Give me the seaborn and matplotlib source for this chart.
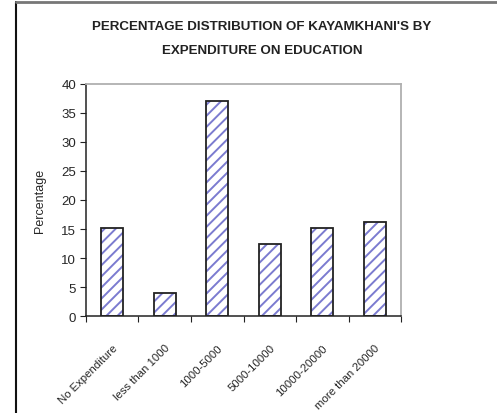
import matplotlib
matplotlib.use("Agg")
import matplotlib.pyplot as plt
from matplotlib.lines import Line2D
import seaborn as sns
import pandas as pd
import numpy as np

categories = ["No Expenditure", "less than 1000", "1000-5000", "5000-10000",
              "10000-20000", "more than 20000"]
percentages = [15.2, 4.0, 37.0, 12.4, 15.2, 16.2]
y_ticks = [0, 5, 10, 15, 20, 25, 30, 35, 40]

sns.set_style("white")
plt.rcParams["font.family"] = ["Liberation Sans", "DejaVu Sans"]
plt.rcParams["hatch.linewidth"] = 1.4

df = pd.DataFrame({"category": categories, "percent": percentages})

fig = plt.figure(figsize=(4.97, 4.14), dpi=100)
ax = fig.add_axes([0.173, 0.234, 0.634, 0.561])

# hatched fill
sns.barplot(data=df, x="category", y="percent", ax=ax, width=0.42,
            color="white", linewidth=0, saturation=1, errorbar=None)
for p in ax.patches:
    p.set_hatch("///")
    p.set_facecolor("white")
    p.set_edgecolor("#7b7bd0")
    p.set_linewidth(0)
# dark outlines on top
sns.barplot(data=df, x="category", y="percent", ax=ax, width=0.42,
            fill=False, edgecolor="#222222", linewidth=1.3, errorbar=None)

ax.set_ylim(0, 40)
ax.set_xlim(-0.5, len(categories) - 0.5)
ax.set_yticks(y_ticks)
ax.set_yticklabels([str(v) for v in y_ticks], fontsize=9.5)
ax.set_xticks(range(len(categories)))
ax.set_xticklabels(categories, rotation=45, ha="right", rotation_mode="anchor",
                   fontsize=8.2)
ax.set_xticks(np.arange(-0.5, len(categories)), minor=True)
ax.tick_params(axis="x", which="major", length=0, pad=19)
ax.tick_params(axis="x", which="minor", length=4, width=0.8, color="#222222",
               direction="out", bottom=True)
ax.tick_params(axis="y", length=4, width=0.8, color="#222222", direction="out",
               left=True, pad=3)
ax.set_xlabel("")
ax.set_ylabel("Percentage", fontsize=9, labelpad=11)

for side in ("left", "bottom"):
    ax.spines[side].set_color("#222222")
    ax.spines[side].set_linewidth(1.1)
for side in ("top", "right"):
    ax.spines[side].set_color("#b0b0b0")
    ax.spines[side].set_linewidth(1.3)

fig.text(0.527, 0.935, "PERCENTAGE DISTRIBUTION OF KAYAMKHANI'S BY",
         ha="center", va="center", fontsize=9.6, fontweight="bold", color="#222222")
fig.text(0.527, 0.878, "EXPENDITURE ON EDUCATION",
         ha="center", va="center", fontsize=9.6, fontweight="bold", color="#222222")

# outer frame of the chart area
fig.add_artist(Line2D([0.033, 0.033], [0, 0.993], transform=fig.transFigure,
                      color="#111111", linewidth=1.5))
fig.add_artist(Line2D([0.033, 1], [0.993, 0.993], transform=fig.transFigure,
                      color="#777777", linewidth=2))

fig.savefig("out.png", dpi=100)
